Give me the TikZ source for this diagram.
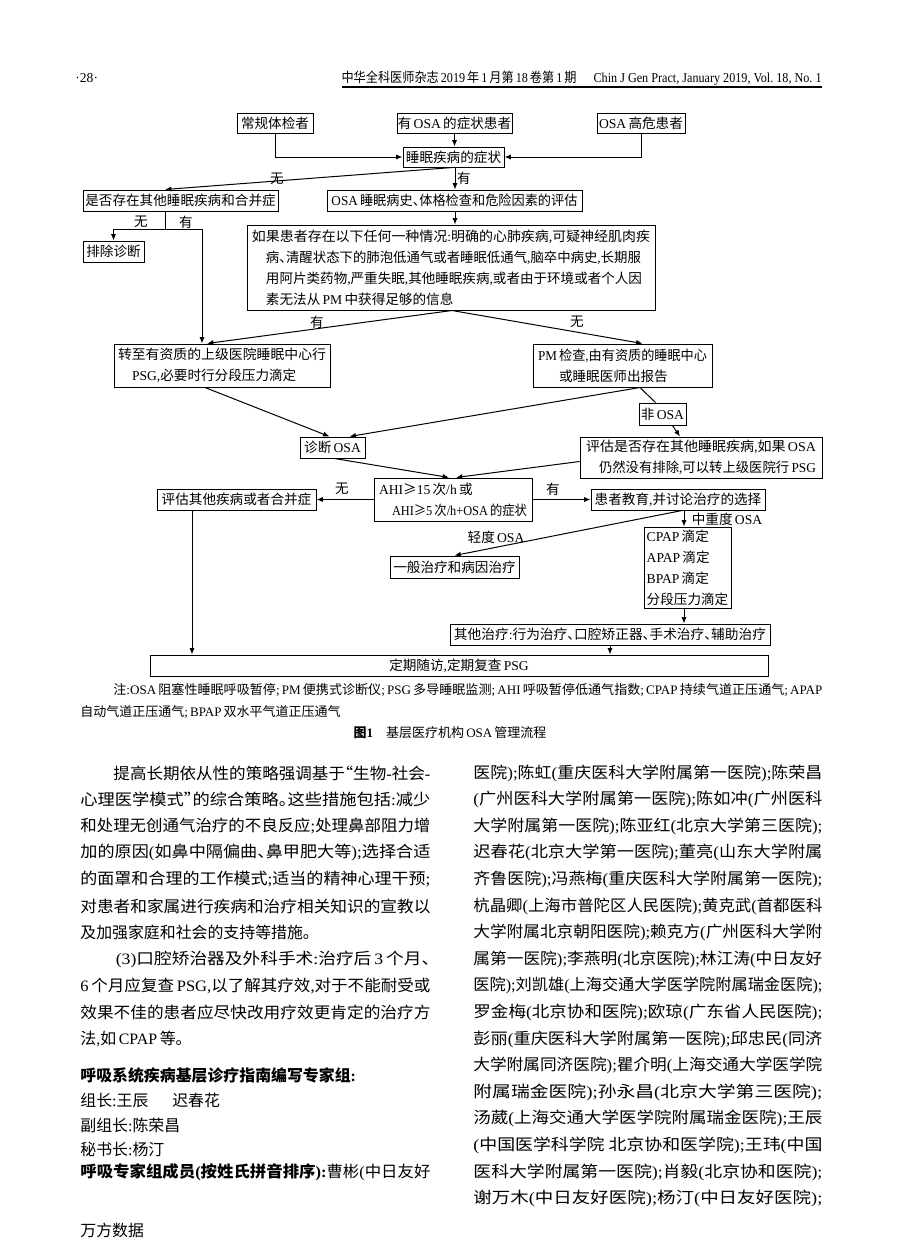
\documentclass[tikz,border=0pt]{standalone}
\usepackage{fontspec}
\usepackage{graphicx}
\setmainfont{Liberation Serif}
\newfontfamily\latf{Liberation Serif}
\newfontfamily\cjkf{Noto Sans CJK SC}[RawFeature=+halt]
\usetikzlibrary{calc,arrows.meta}
\ifdefined\newXeTeXintercharclass
  \newXeTeXintercharclass\cjkcls
\else
  \chardef\cjkcls=7
\fi
\newcount\cccnt
\def\setcls#1#2{\cccnt=#1\relax\loop\XeTeXcharclass\cccnt=\cjkcls\relax\ifnum\cccnt<#2\relax\advance\cccnt by 1\relax\repeat}
\setcls{"4E00}{"9FFF}
\setcls{"3000}{"303F}
\setcls{"FF00}{"FFEF}
\setcls{"2018}{"201D}
\XeTeXcharclass"2265=\cjkcls
\XeTeXinterchartoks 0 \cjkcls = {\cjkf}
\XeTeXinterchartoks 4095 \cjkcls = {\cjkf}
\XeTeXinterchartoks \cjkcls 0 = {\latf}
\XeTeXinterchartoks 4095 0 = {\latf}
\XeTeXinterchartokenstate=1
\newcommand\fw[2]{\resizebox{\dimexpr #1pt/2\relax}{\height}{#2}}
\newcommand\vstk[1]{\vbox{\baselineskip=10.5pt\lineskiplimit=-100pt\relax #1}}
\newcommand\fsF{\fontsize{6.8pt}{10.5pt}\selectfont}
\newcommand\fsB{\fontsize{7.95pt}{13.3pt}\selectfont}
\newcommand\fsN{\fontsize{6.5pt}{11pt}\selectfont}
% box node: name, x1, y1, x2, y2, text
\newcommand\B[6]{\node[bx,minimum width={(#4-#2)*0.5pt},minimum height={(#5-#3)*0.5pt}] (#1) at ({(#2+#4)/2},{(#3+#5)/2}) {#6};}
\begin{document}
\begin{tikzpicture}[x=0.5pt,y=-0.5pt,
  every node/.style={inner sep=0pt},
  bx/.style={draw,line width=0.5pt,inner sep=0pt,font=\fsF},
  lbl/.style={font=\fsF,inner sep=0pt},
  arr/.style={-{Latex[length=3.2pt,width=2.6pt]},line width=0.5pt},
  ln/.style={line width=0.5pt},
  bt/.style={font=\fsB,anchor=west,inner sep=0pt}]
\fill[white] (0,0) rectangle (900,1259);
\useasboundingbox (0,0) rectangle (900,1259);
% header
\node[lbl,anchor=west] (pg) at (75,78) {·28·};
\node[lbl,anchor=east] (hd) at (822,78) {\fw{480}{中华全科医师杂志\,2019\,年\,1\,月第\,18\,卷第\,1\,期\hspace{1.4em}Chin J Gen Pract, January 2019, Vol.\ 18, No.\ 1}};
\coordinate (r1) at (342,87); \coordinate (r2) at (822,87);
\draw[line width=0.6pt] (r1) -- (r2);
% boxes
\B{n1}{237}{113}{313}{133}{常规体检者}
\B{n2}{397}{113}{512}{133}{有\,OSA\,的症状患者}
\B{n3}{597}{113}{685}{133}{OSA\,高危患者}
\B{s}{403}{147}{504}{167}{睡眠疾病的症状}
\B{q}{83}{190}{278}{211}{是否存在其他睡眠疾病和合并症}
\B{o}{327}{190}{582}{211}{\fw{246}{OSA\,睡眠病史、体格检查和危险因素的评估}}
\B{ex}{83}{241}{144}{262}{排除诊断}
\B{r}{247}{225}{655}{310}{\vstk{%
  \hbox{\fw{398}{如果患者存在以下任何一种情况:明确的心肺疾病,可疑神经肌肉疾}}
  \hbox{\hspace*{7pt}\fw{375}{病、清醒状态下的肺泡低通气或者睡眠低通气,脑卒中病史,长期服}}
  \hbox{\hspace*{7pt}\fw{376}{用阿片类药物,严重失眠,其他睡眠疾病,或者由于环境或者个人因}}
  \hbox{\hspace*{7pt}素无法从\,PM\,中获得足够的信息}}}
\B{zz}{114}{344}{330}{387}{\vstk{%
  \hbox{\fw{208}{转至有资质的上级医院睡眠中心行}}
  \hbox{\hspace*{7pt}PSG,必要时行分段压力滴定}}}
\B{pm}{533}{344}{712}{387}{\vstk{%
  \hbox{\fw{169}{PM\,检查,由有资质的睡眠中心}}
  \hbox{\hspace*{10.5pt}或睡眠医师出报告}}}
\B{non}{639}{403}{686}{425}{非\,OSA}
\B{dx}{300}{437}{365}{458}{诊断\,OSA}
\B{ev}{580}{437}{822}{478}{\vstk{%
  \hbox{\fw{230}{评估是否存在其他睡眠疾病,如果\,OSA}}
  \hbox{\hspace*{6.5pt}\fw{217}{仍然没有排除,可以转上级医院行\,PSG}}}}
\B{ahi}{374}{478}{532}{521}{\vstk{%
  \hbox{AHI≥15\,次/h\,或}
  \hbox{\hspace*{6.5pt}\fw{135}{AHI≥5\,次/h+OSA\,的症状}}}}
\B{oth}{157}{489}{316}{510}{评估其他疾病或者合并症}
\B{edu}{591}{489}{765}{510}{患者教育,并讨论治疗的选择}
\B{gen}{390}{556}{519}{578}{一般治疗和病因治疗}
\B{cp}{644}{527}{731}{608}{\vstk{%
  \hbox{CPAP\,滴定}
  \hbox{APAP\,滴定}
  \hbox{BPAP\,滴定}
  \hbox{分段压力滴定}}}
\B{ot}{450}{624}{770}{645}{\fw{312}{其他治疗:行为治疗、口腔矫正器、手术治疗、辅助治疗}}
\B{fu}{150}{655}{768}{676}{定期随访,定期复查\,PSG}
% connectors
\draw[arr] (n1.south) |- (s.west);
\draw[arr] (n3.south) |- (s.east);
\draw[arr] (n2.south) -- (n2.south |- s.north);
\coordinate (sx) at ($(s.south)+(1.5,0)$);
\draw[arr] (sx) -- (sx |- o.north);
\coordinate (br) at (165,229);
\coordinate (brR) at (202,229);
\draw[arr] ($(s.south)+(-1,0)$) -- (br |- q.north);
\draw[ln] (br |- q.south) -- (br) -- (brR);
\draw[arr] (br) -| (ex.north);
\draw[arr] (brR) -- (brR |- zz.north);
\draw[arr] (sx |- o.south) -- (sx |- r.north);
\coordinate (rb) at ($(r.south)+(1,0)$);
\draw[arr] (rb) -- ($(zz.north)+(-15,0)$);
\draw[arr] (rb) -- ($(pm.north)+(20,0)$);
\coordinate (zb) at ($(zz.south)+(-17,0)$);
\draw[arr] (zb) -- ($(dx.north)+(-3,0)$);
\coordinate (pb) at ($(pm.south)+(17.5,0)$);
\draw[arr] (pb) -- ($(dx.north)+(17,0)$);
\draw[ln] (pb) -- ($(non.north)+(-7,0)$);
\draw[arr] ($(non.south)+(10,0)$) -- ($(ev.north)+(-21,0)$);
\draw[arr] ($(dx.south)+(2,0)$) -- ($(ahi.north)+(-4,0)$);
\draw[arr] ($(ev.west)+(0,4)$) -- ($(ahi.north)+(3,0)$);
\draw[arr] (ahi.west) -- (oth.east);
\draw[arr] (ahi.east) -- (edu.west);
\coordinate (cx) at (684,0);
\draw[arr] (edu.south -| cx) -- (cp.north -| cx);
\draw[arr] ($(edu.south -| cx)+(-2,0)$) -- (gen.north);
\draw[arr] (cp.south -| cx) -- (ot.north -| cx);
\draw[arr] (ot.south) -- (ot.south |- fu.north);
\coordinate (vx) at (192,0);
\draw[arr] (oth.south -| vx) -- (fu.north -| vx);
% labels
\node[lbl] (t1) at (277,179) {无};
\node[lbl] (t2) at (464,178) {有};
\node[lbl] (t3) at (141,222) {无};
\node[lbl] (t4) at (186,222) {有};
\node[lbl] (t5) at (317,322) {有};
\node[lbl] (t6) at (577,322) {无};
\node[lbl] (t7) at (342,489) {无};
\node[lbl] (t8) at (553,489) {有};
\node[lbl] (t9) at (727,519) {中重度\,OSA};
\node[lbl] (t10) at (496,537) {轻度\,OSA};
% note and caption
\node[anchor=west,font=\fsN] (nt1) at (113,690) {\fw{709}{注:OSA\,阻塞性睡眠呼吸暂停;\,PM\,便携式诊断仪;\,PSG\,多导睡眠监测;\,AHI\,呼吸暂停低通气指数;\,CPAP\,持续气道正压通气;\,APAP}};
\node[anchor=west,font=\fsN] (nt2) at (80,712) {自动气道正压通气;\,BPAP\,双水平气道正压通气};
\node[font=\fsN] (cap) at (450,733) {\textbf{图1}\hspace{1em}基层医疗机构\,OSA\,管理流程};
% left column
\node[bt] (L0) at (80,773) {\fw{350}{\hspace*{2em}提高长期依从性的策略强调基于“生物-社会-}};
\node[bt] (L1) at (80,799.6) {\fw{350}{心理医学模式”的综合策略。这些措施包括:减少}};
\node[bt] (L2) at (80,826.2) {\fw{350}{和处理无创通气治疗的不良反应;处理鼻部阻力增}};
\node[bt] (L3) at (80,852.8) {\fw{350}{加的原因(如鼻中隔偏曲、鼻甲肥大等);选择合适}};
\node[bt] (L4) at (80,879.4) {\fw{350}{的面罩和合理的工作模式;适当的精神心理干预;}};
\node[bt] (L5) at (80,906) {\fw{350}{对患者和家属进行疾病和治疗相关知识的宣教以}};
\node[bt] (L6) at (80,932.6) {及加强家庭和社会的支持等措施。};
\node[bt] (L7) at (80,959.2) {\fw{350}{\hspace*{2em}(3)口腔矫治器及外科手术:治疗后\,3\,个月、}};
\node[bt] (L8) at (80,985.8) {\fw{350}{6\,个月应复查\,PSG,以了解其疗效,对于不能耐受或}};
\node[bt] (L9) at (80,1012.4) {\fw{350}{效果不佳的患者应尽快改用疗效更肯定的治疗方}};
\node[bt] (L10) at (80,1039) {法,如\,CPAP\,等。};
\node[bt] (G0) at (80,1075) {\bfseries 呼吸系统疾病基层诊疗指南编写专家组:};
\node[bt] (G1) at (80,1100) {组长:王辰\hspace{1.5em}迟春花};
\node[bt] (G2) at (80,1125) {副组长:陈荣昌};
\node[bt] (G3) at (80,1149) {秘书长:杨汀};
\node[bt] (G4) at (80,1172) {\fw{350}{{\bfseries 呼吸专家组成员(按姓氏拼音排序):}曹彬(中日友好}};
\node[bt] (wf) at (80,1230) {万方数据};
% right column
\node[bt] (R0) at (473,773) {\fw{349}{医院);陈虹(重庆医科大学附属第一医院);陈荣昌}};
\node[bt] (R1) at (473,799.6) {\fw{349}{(广州医科大学附属第一医院);陈如冲(广州医科}};
\node[bt] (R2) at (473,826.2) {\fw{349}{大学附属第一医院);陈亚红(北京大学第三医院);}};
\node[bt] (R3) at (473,852.8) {\fw{349}{迟春花(北京大学第一医院);董亮(山东大学附属}};
\node[bt] (R4) at (473,879.4) {\fw{349}{齐鲁医院);冯燕梅(重庆医科大学附属第一医院);}};
\node[bt] (R5) at (473,906) {\fw{349}{杭晶卿(上海市普陀区人民医院);黄克武(首都医科}};
\node[bt] (R6) at (473,932.6) {\fw{349}{大学附属北京朝阳医院);赖克方(广州医科大学附}};
\node[bt] (R7) at (473,959.2) {\fw{349}{属第一医院);李燕明(北京医院);林江涛(中日友好}};
\node[bt] (R8) at (473,985.8) {\fw{349}{医院);刘凯雄(上海交通大学医学院附属瑞金医院);}};
\node[bt] (R9) at (473,1012.4) {\fw{349}{罗金梅(北京协和医院);欧琼(广东省人民医院);}};
\node[bt] (R10) at (473,1039) {\fw{349}{彭丽(重庆医科大学附属第一医院);邱忠民(同济}};
\node[bt] (R11) at (473,1065.6) {\fw{349}{大学附属同济医院);瞿介明(上海交通大学医学院}};
\node[bt] (R12) at (473,1092.2) {\fw{349}{附属瑞金医院);孙永昌(北京大学第三医院);}};
\node[bt] (R13) at (473,1118.8) {\fw{349}{汤葳(上海交通大学医学院附属瑞金医院);王辰}};
\node[bt] (R14) at (473,1145.4) {\fw{349}{(中国医学科学院 北京协和医学院);王玮(中国}};
\node[bt] (R15) at (473,1172) {\fw{349}{医科大学附属第一医院);肖毅(北京协和医院);}};
\node[bt] (R16) at (473,1198.6) {\fw{349}{谢万木(中日友好医院);杨汀(中日友好医院);}};
\end{tikzpicture}
\end{document}
